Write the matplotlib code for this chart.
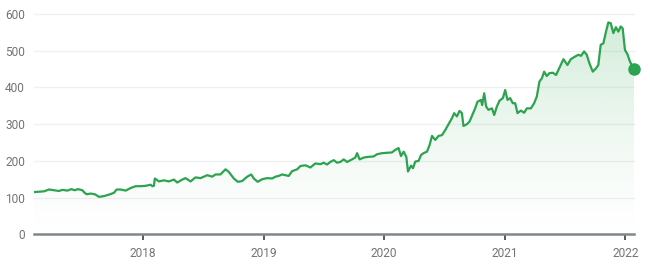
import matplotlib.pyplot as plt
import numpy as np

# decimal year of each sample, and closing price
years = [2017.097, 2017.180, 2017.222, 2017.263, 2017.304, 2017.332, 2017.374, 2017.407,
         2017.434, 2017.462, 2017.498, 2017.517, 2017.534, 2017.567, 2017.602, 2017.636,
         2017.677, 2017.718, 2017.760, 2017.782, 2017.815, 2017.857, 2017.898, 2017.940,
         2017.981, 2018.022, 2018.064, 2018.078, 2018.091, 2018.099, 2018.133, 2018.174,
         2018.215, 2018.257, 2018.285, 2018.326, 2018.354, 2018.395, 2018.436, 2018.478,
         2018.533, 2018.575, 2018.602, 2018.643, 2018.685, 2018.712, 2018.754, 2018.787,
         2018.823, 2018.865, 2018.898, 2018.919, 2018.952, 2018.989, 2019.030, 2019.072,
         2019.099, 2019.126, 2019.154, 2019.209, 2019.237, 2019.279, 2019.306, 2019.347,
         2019.389, 2019.430, 2019.472, 2019.499, 2019.527, 2019.554, 2019.582, 2019.610,
         2019.637, 2019.665, 2019.693, 2019.734, 2019.761, 2019.776, 2019.797, 2019.830,
         2019.872, 2019.913, 2019.941, 2019.983, 2020.024, 2020.065, 2020.093, 2020.120,
         2020.140, 2020.162, 2020.184, 2020.198, 2020.223, 2020.239, 2020.258, 2020.286,
         2020.306, 2020.327, 2020.355, 2020.377, 2020.397, 2020.424, 2020.451, 2020.480,
         2020.507, 2020.534, 2020.562, 2020.581, 2020.604, 2020.625, 2020.645, 2020.658,
         2020.687, 2020.708, 2020.728, 2020.755, 2020.774, 2020.803, 2020.813, 2020.830,
         2020.846, 2020.865, 2020.894, 2020.913, 2020.935, 2020.957, 2020.985, 2021.004,
         2021.023, 2021.045, 2021.067, 2021.087, 2021.106, 2021.134, 2021.161, 2021.183,
         2021.217, 2021.244, 2021.266, 2021.288, 2021.308, 2021.327, 2021.349, 2021.371,
         2021.399, 2021.426, 2021.459, 2021.487, 2021.520, 2021.548, 2021.583, 2021.611,
         2021.633, 2021.658, 2021.680, 2021.702, 2021.730, 2021.757, 2021.776, 2021.796,
         2021.818, 2021.840, 2021.859, 2021.879, 2021.901, 2021.922, 2021.942, 2021.962,
         2021.978, 2021.997, 2022.017, 2022.039, 2022.072]
prices = [115, 117, 122, 120, 118, 121, 119, 123,
          120, 123, 120, 113, 109, 111, 109, 102,
          104, 108, 113, 122, 122, 119, 126, 131,
          131, 132, 135, 131, 132, 152, 144, 147,
          144, 149, 141, 149, 153, 144, 155, 153,
          161, 157, 163, 163, 177, 170, 152, 143,
          145, 157, 163, 152, 143, 150, 153, 152,
          157, 159, 163, 159, 172, 177, 186, 188,
          182, 193, 191, 195, 190, 197, 202, 195,
          197, 204, 197, 204, 209, 221, 204, 209,
          211, 212, 218, 221, 222, 223, 230, 235,
          213, 225, 211, 171, 187, 180, 198, 200,
          216, 221, 225, 243, 268, 257, 268, 270,
          284, 300, 316, 330, 321, 336, 330, 295,
          300, 307, 322, 343, 361, 366, 352, 384,
          348, 339, 343, 325, 348, 364, 371, 393,
          366, 371, 357, 357, 330, 337, 331, 343,
          343, 357, 375, 416, 425, 443, 431, 439,
          440, 434, 457, 477, 461, 477, 484, 489,
          486, 498, 489, 466, 443, 452, 461, 516,
          520, 552, 577, 575, 548, 564, 552, 566,
          561, 502, 491, 470, 450]
year_ticks = [2018, 2019, 2020, 2021, 2022]
price_ticks = [0, 100, 200, 300, 400, 500, 600]

green = '#2ba34f'
plt.rcParams['font.family'] = ['Roboto', 'DejaVu Sans']

fig = plt.figure(figsize=(6.5, 2.69), dpi=100)
ax = fig.add_axes([34 / 650, 1 - 234.3 / 269, 600 / 650, (234.3 - 14) / 269])

x0, x1 = years[0], years[-1]
ax.set_xlim(x0, x1)
ax.set_ylim(0, 600)

# light horizontal grid
for v in price_ticks[1:]:
    ax.axhline(v, color='#eef0f1', lw=1, zorder=0, clip_on=False)

# gradient fill under the line
fill = ax.fill_between(years, prices, 0, color='none', lw=0)
grad = np.zeros((256, 1, 4))
rgb = np.array([52, 168, 83]) / 255
grad[:, 0, :3] = rgb
grad[:, 0, 3] = np.linspace(0.0, 0.32, 256) ** 1.3
im = ax.imshow(grad, extent=[x0, x1, 0, 600], origin='lower', aspect='auto', zorder=1)
im.set_clip_path(fill.get_paths()[0], transform=ax.transData)

ax.plot(years, prices, color=green, lw=1.6, zorder=3, solid_joinstyle='round')
ax.plot(years[-1], prices[-1], 'o', color=green, ms=8, zorder=4, clip_on=False)

for s in ['top', 'right', 'left']:
    ax.spines[s].set_visible(False)
ax.spines['bottom'].set_color('#80868b')
ax.spines['bottom'].set_linewidth(1.8)

ax.set_xticks(year_ticks)
ax.set_xticklabels([str(y) for y in year_ticks])
ax.set_yticks(price_ticks)
ax.tick_params(axis='x', length=4, width=1.2, color='#3c4043', pad=5,
               labelsize=8.6, labelcolor='#70757a')
ax.tick_params(axis='y', length=0, pad=6.5, labelsize=8.6, labelcolor='#70757a')

fig.savefig('out.png', dpi=100)
